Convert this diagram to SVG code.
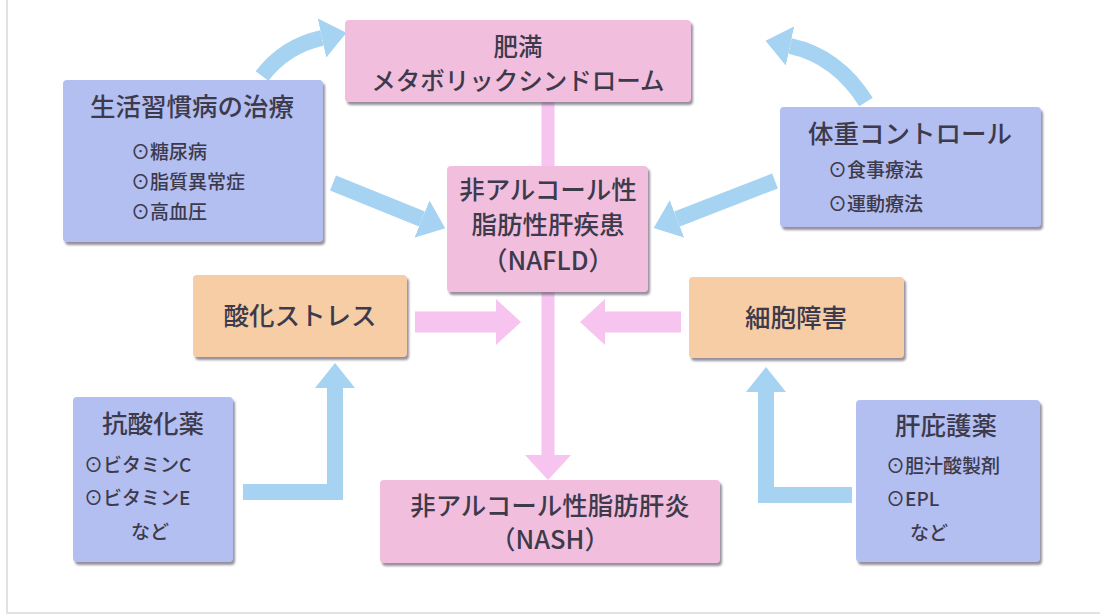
<svg xmlns="http://www.w3.org/2000/svg" width="1100" height="616" viewBox="0 0 1100 616">
<defs>
<style>
.t{font-family:"Noto Sans CJK JP","Noto Sans",sans-serif;fill:#3d3a4c;font-weight:500}
.h{font-size:25.5px}
.m{font-size:24.5px}
.s{font-size:19px}
.pink{fill:#f1bfdd}
.blue{fill:#b3bff1}
.orange{fill:#f7cda6}
.bl{fill:none;stroke:#a5d3f1;stroke-width:16}
.pk{fill:none;stroke:#f6c4ee}
</style>
<filter id="sh" x="-10%" y="-10%" width="120%" height="130%">
<feDropShadow dx="2" dy="3" stdDeviation="1.2" flood-color="#5c5468" flood-opacity="0.65"/>
</filter>
<marker id="ab" markerUnits="userSpaceOnUse" markerWidth="26" markerHeight="40" refX="0" refY="20" orient="auto">
<path d="M0,0 L25,20 L0,40 Z" fill="#a5d3f1"/>
</marker>
<marker id="ap" markerUnits="userSpaceOnUse" markerWidth="26" markerHeight="46" refX="0" refY="23" orient="auto">
<path d="M0,0 L25,23 L0,46 Z" fill="#f6c4ee"/>
</marker>
</defs>
<rect width="1100" height="616" fill="#ffffff"/>
<line x1="7" y1="0" x2="7" y2="614" stroke="#e2e2e2" stroke-width="2"/>
<line x1="7" y1="613" x2="1100" y2="613" stroke="#e2e2e2" stroke-width="2"/>

<g id="connectors">
<line class="pk" x1="548" y1="100" x2="548" y2="170" stroke-width="13"/>
<line class="pk" x1="548" y1="290" x2="548" y2="455" stroke-width="13" marker-end="url(#ap)"/>
<line class="pk" x1="415" y1="322" x2="496" y2="322" stroke-width="21" marker-end="url(#ap)"/>
<line class="pk" x1="681" y1="322" x2="605" y2="322" stroke-width="21" marker-end="url(#ap)"/>
<path class="bl" d="M262 76 Q285 46 322 38" marker-end="url(#ab)"/>
<path class="bl" d="M866 102 Q837 56 790 46" marker-end="url(#ab)"/>
<path class="bl" d="M333 183 L422 219" marker-end="url(#ab)"/>
<path class="bl" d="M775 181 L677 219" marker-end="url(#ab)"/>
<path class="bl" d="M243 492 L335 492 L335 388" marker-end="url(#ab)"/>
<path class="bl" d="M852 495 L766 495 L766 392" marker-end="url(#ab)"/>
</g>

<g id="obesity">
<rect class="pink" x="345" y="20" width="346" height="82" rx="4" filter="url(#sh)"/>
<text class="t m" x="518" y="56" text-anchor="middle">肥満</text>
<text class="t m" x="518" y="90" text-anchor="middle">メタボリックシンドローム</text>
</g>

<g id="lifestyle">
<rect class="blue" x="63" y="80" width="260" height="162" rx="4" filter="url(#sh)"/>
<text class="t h" x="192" y="116" text-anchor="middle">生活習慣病の治療</text>
<text class="t s" x="131" y="159">⊙糖尿病</text>
<text class="t s" x="131" y="189">⊙脂質異常症</text>
<text class="t s" x="131" y="219">⊙高血圧</text>
</g>

<g id="weight">
<rect class="blue" x="780" y="107" width="261" height="120" rx="4" filter="url(#sh)"/>
<text class="t h" x="910" y="143" text-anchor="middle">体重コントロール</text>
<text class="t s" x="828" y="177">⊙食事療法</text>
<text class="t s" x="828" y="211">⊙運動療法</text>
</g>

<g id="nafld">
<rect class="pink" x="447" y="166" width="201" height="126" rx="4" filter="url(#sh)"/>
<text class="t h" x="548" y="199" text-anchor="middle">非アルコール性</text>
<text class="t h" x="548" y="234" text-anchor="middle">脂肪性肝疾患</text>
<text class="t h" x="548" y="270" text-anchor="middle">（NAFLD）</text>
</g>

<g id="oxidative">
<rect class="orange" x="193" y="275" width="214" height="82" rx="4" filter="url(#sh)"/>
<text class="t h" x="300" y="325" text-anchor="middle">酸化ストレス</text>
</g>

<g id="celldamage">
<rect class="orange" x="689" y="277" width="215" height="81" rx="4" filter="url(#sh)"/>
<text class="t h" x="796" y="327" text-anchor="middle">細胞障害</text>
</g>

<g id="antioxidant">
<rect class="blue" x="73" y="397" width="160" height="165" rx="4" filter="url(#sh)"/>
<text class="t h" x="153" y="433" text-anchor="middle">抗酸化薬</text>
<text class="t s" x="84" y="472">⊙ビタミンC</text>
<text class="t s" x="84" y="505">⊙ビタミンE</text>
<text class="t s" x="150" y="539" text-anchor="middle">など</text>
</g>

<g id="hepatoprotective">
<rect class="blue" x="856" y="400" width="184" height="162" rx="4" filter="url(#sh)"/>
<text class="t h" x="946" y="435" text-anchor="middle">肝庇護薬</text>
<text class="t s" x="886" y="473">⊙胆汁酸製剤</text>
<text class="t s" x="886" y="506">⊙EPL</text>
<text class="t s" x="929" y="540" text-anchor="middle">など</text>
</g>

<g id="nash">
<rect class="pink" x="380" y="480" width="340" height="83" rx="4" filter="url(#sh)"/>
<text class="t h" x="550" y="515" text-anchor="middle">非アルコール性脂肪肝炎</text>
<text class="t h" x="550" y="549" text-anchor="middle">（NASH）</text>
</g>
</svg>
